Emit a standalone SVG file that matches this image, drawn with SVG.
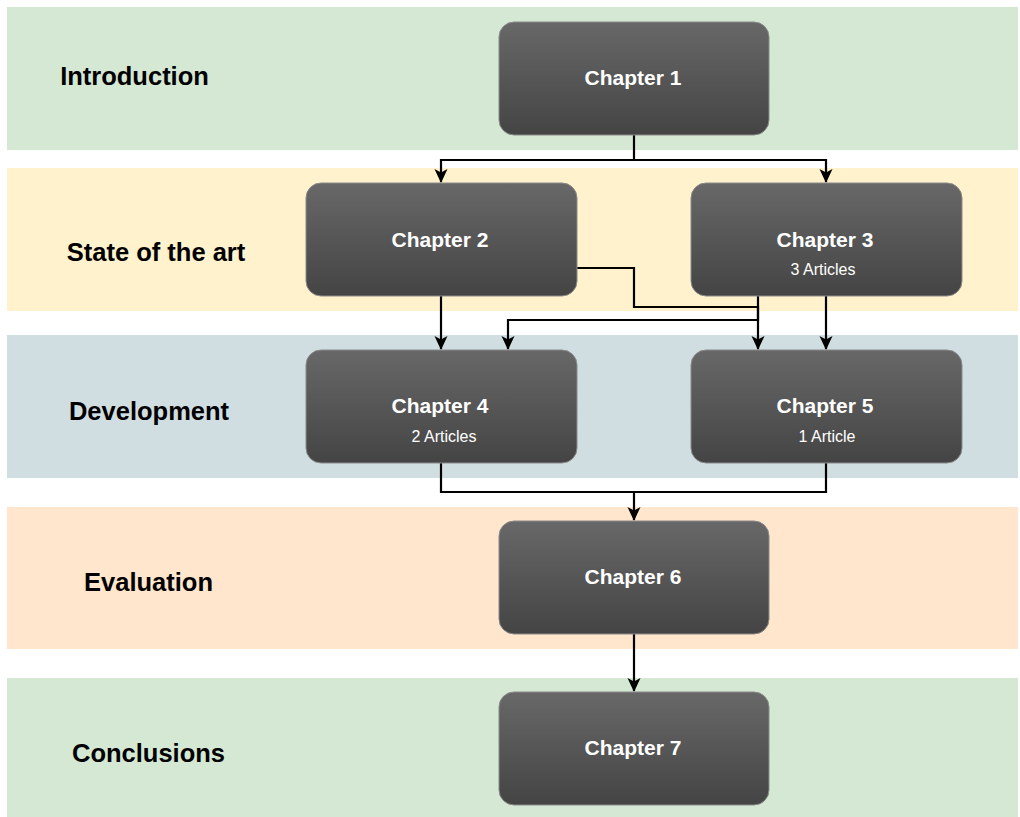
<svg xmlns="http://www.w3.org/2000/svg" width="1020" height="817" viewBox="0 0 1020 817">
  <style>
    .lane-label { font-family: "Liberation Sans", Arial, sans-serif; font-weight: bold; font-size: 25.5px; fill: #000; text-anchor: middle; }
    .box { fill: url(#boxGrad); stroke: #8a8a8a; stroke-width: 1; }
    .title { font-family: "Liberation Sans", Arial, sans-serif; font-weight: bold; font-size: 21px; fill: #fff; text-anchor: middle; }
    .sub { font-family: "Liberation Sans", Arial, sans-serif; font-size: 16px; fill: #fff; text-anchor: middle; }
    .conn { fill: none; stroke: #000; stroke-width: 2.2; }
  </style>
  <defs>
    <linearGradient id="boxGrad" x1="0" y1="0" x2="0" y2="1">
      <stop offset="0" stop-color="#686868"/>
      <stop offset="1" stop-color="#444444"/>
    </linearGradient>
    <marker id="arrow" viewBox="0 0 14 14" refX="13" refY="7" markerWidth="14" markerHeight="14" markerUnits="userSpaceOnUse" orient="auto">
      <path d="M0,0.5 L14,7 L0,13.5 L3.5,7 Z" fill="#000"/>
    </marker>
  </defs>
  <rect width="1020" height="817" fill="#fff"/>
  <g id="lanes">
    <rect x="7" y="7" width="1011" height="143" fill="#d5e8d4"/>
    <rect x="7" y="168" width="1011" height="143" fill="#fff2cc"/>
    <rect x="7" y="335" width="1011" height="143" fill="#d0dee2"/>
    <rect x="7" y="507" width="1011" height="142" fill="#ffe6cc"/>
    <rect x="7" y="678" width="1011" height="139" fill="#d5e8d4"/>
  </g>
  <g id="lane-labels">
    <text class="lane-label" x="134.5" y="85">Introduction</text>
    <text class="lane-label" x="156" y="261">State of the art</text>
    <text class="lane-label" x="149" y="420">Development</text>
    <text class="lane-label" x="148.5" y="591">Evaluation</text>
    <text class="lane-label" x="148.5" y="762">Conclusions</text>
  </g>
  <g id="connectors">
    <path class="conn" d="M634,135 V160 H441 V182" marker-end="url(#arrow)"/>
    <path class="conn" d="M634,160 H826 V182" marker-end="url(#arrow)"/>
    <path class="conn" d="M441,296 V349" marker-end="url(#arrow)"/>
    <path class="conn" d="M826,296 V349" marker-end="url(#arrow)"/>
    <path class="conn" d="M577,268 H634 V307 H758 V349" marker-end="url(#arrow)"/>
    <path class="conn" d="M758,296 V320 H508 V349" marker-end="url(#arrow)"/>
    <path class="conn" d="M441,463 V492 H826 V463"/>
    <path class="conn" d="M634,492 V520" marker-end="url(#arrow)"/>
    <path class="conn" d="M634,634 V691" marker-end="url(#arrow)"/>
  </g>
  <g id="chapter1">
    <rect class="box" x="499" y="22" width="270" height="113" rx="15"/>
    <text class="title" x="633" y="85">Chapter 1</text>
  </g>
  <g id="chapter2">
    <rect class="box" x="306" y="183" width="271" height="113" rx="15"/>
    <text class="title" x="440" y="247">Chapter 2</text>
  </g>
  <g id="chapter3">
    <rect class="box" x="691" y="183" width="271" height="113" rx="15"/>
    <text class="title" x="825" y="247">Chapter 3</text>
    <text class="sub" x="823" y="275">3 Articles</text>
  </g>
  <g id="chapter4">
    <rect class="box" x="306" y="350" width="271" height="113" rx="15"/>
    <text class="title" x="440" y="413">Chapter 4</text>
    <text class="sub" x="444" y="442">2 Articles</text>
  </g>
  <g id="chapter5">
    <rect class="box" x="691" y="350" width="271" height="113" rx="15"/>
    <text class="title" x="825" y="413">Chapter 5</text>
    <text class="sub" x="827" y="442">1 Article</text>
  </g>
  <g id="chapter6">
    <rect class="box" x="499" y="521" width="270" height="113" rx="15"/>
    <text class="title" x="633" y="584">Chapter 6</text>
  </g>
  <g id="chapter7">
    <rect class="box" x="499" y="692" width="270" height="113" rx="15"/>
    <text class="title" x="633" y="755">Chapter 7</text>
  </g>
</svg>
